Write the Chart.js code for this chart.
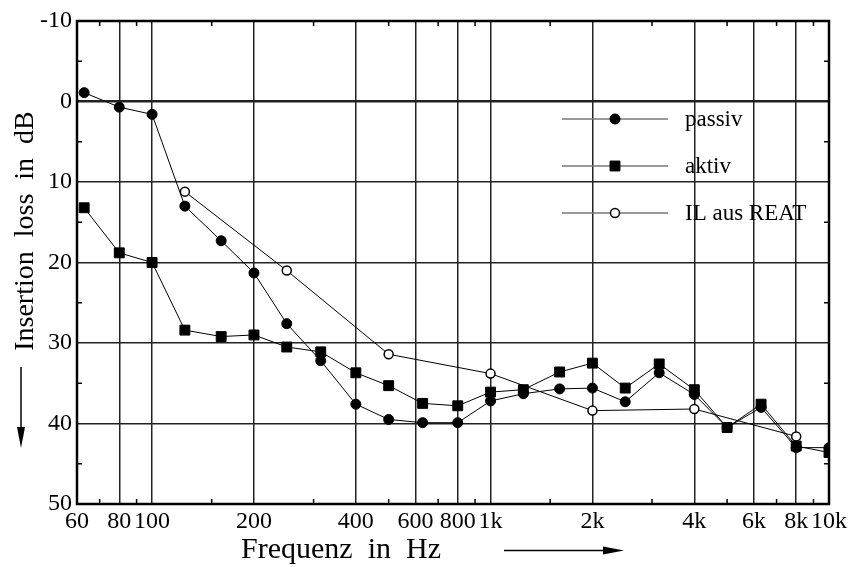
<!DOCTYPE html>
<html>
<head>
<meta charset="utf-8">
<script src="https://cdn.jsdelivr.net/npm/chart.js@4/dist/chart.umd.min.js"></script>
<style>
  body { margin: 0; background: #fff; }
  #wrap { width: 849px; height: 567px; }
</style>
</head>
<body>
<div id="wrap"><canvas id="chart"></canvas></div>
<script>
// third-octave band centre frequencies in Hz
const freqs = [63, 80, 100, 125, 160, 200, 250, 315, 400, 500, 630, 800, 1000, 1250, 1600, 2000, 2500, 3150, 4000, 5000, 6300, 8000, 10000];
const passiv = [-1.1, 0.7, 1.6, 13.0, 17.3, 21.3, 27.6, 32.2, 37.6, 39.5, 39.9, 39.9, 37.2, 36.3, 35.7, 35.6, 37.3, 33.7, 36.4, 40.5, 38.0, 43.0, 43.0];
const aktiv = [13.2, 18.8, 20.0, 28.4, 29.2, 29.0, 30.5, 31.1, 33.7, 35.3, 37.5, 37.8, 36.1, 35.8, 33.6, 32.5, 35.6, 32.6, 35.8, 40.5, 37.6, 42.8, 43.6];
// REAT measurements only exist at octave bands
const reatFreqs = [125, 250, 500, 1000, 2000, 4000, 8000];
const reat = [11.2, 21.0, 31.4, 33.8, 38.4, 38.2, 41.6];

const xTicks = [60, 80, 100, 200, 400, 600, 800, 1000, 2000, 4000, 6000, 8000, 10000];
const xMinorTicks = [70, 90, 150, 300, 500, 700, 900, 1500, 3000, 5000, 7000, 9000];
const yMinorTicks = [-5, 5, 15, 25, 35, 45];

const serif = '"Liberation Serif", "Times New Roman", serif';
const pair = (xs, ys) => xs.map((x, i) => ({ x: x, y: ys[i] }));

// box around the plot plus the small inward ticks
const framePlugin = {
    id: 'frame',
    beforeDatasetsDraw(chart) {
        const { ctx, chartArea: a, scales } = chart;
        ctx.save();
        ctx.strokeStyle = '#000';
        ctx.lineWidth = 1.5;
        ctx.beginPath();
        xMinorTicks.forEach((f) => {
            const px = scales.x.getPixelForValue(f);
            ctx.moveTo(px, a.top);
            ctx.lineTo(px, a.top + 5);
            ctx.moveTo(px, a.bottom);
            ctx.lineTo(px, a.bottom - 5);
        });
        yMinorTicks.forEach((v) => {
            const py = scales.y.getPixelForValue(v);
            ctx.moveTo(a.left, py);
            ctx.lineTo(a.left + 5, py);
            ctx.moveTo(a.right, py);
            ctx.lineTo(a.right - 5, py);
        });
        ctx.stroke();
        ctx.lineWidth = 2.5;
        ctx.strokeRect(a.left, a.top, a.right - a.left, a.bottom - a.top);
        ctx.restore();
    },
};

const drawArrowHead = (ctx, x, y, dir) => {
    ctx.beginPath();
    if (dir === 'down') {
        ctx.moveTo(x - 4, y - 21);
        ctx.lineTo(x + 4, y - 21);
        ctx.lineTo(x, y);
    } else {
        ctx.moveTo(x - 21, y - 4);
        ctx.lineTo(x - 21, y + 4);
        ctx.lineTo(x, y);
    }
    ctx.closePath();
    ctx.fill();
};

const titlePlugin = {
    id: 'axisTitles',
    afterDraw(chart) {
        const ctx = chart.ctx;
        ctx.save();
        ctx.fillStyle = '#000';
        ctx.strokeStyle = '#000';

        ctx.font = '30px ' + serif;
        ctx.textAlign = 'center';
        ctx.textBaseline = 'alphabetic';
        ctx.fillText('Frequenz  in  Hz', 341, 558);
        ctx.lineWidth = 1.5;
        ctx.beginPath();
        ctx.moveTo(504, 550.5);
        ctx.lineTo(605, 550.5);
        ctx.stroke();
        drawArrowHead(ctx, 624, 550.5, 'right');

        ctx.font = '28px ' + serif;
        ctx.save();
        ctx.translate(33, 231);
        ctx.rotate(-Math.PI / 2);
        ctx.fillText('Insertion  loss  in  dB', 0, 0);
        ctx.restore();
        ctx.beginPath();
        ctx.moveTo(21, 367);
        ctx.lineTo(21, 430);
        ctx.stroke();
        drawArrowHead(ctx, 21, 448, 'down');
        ctx.restore();
    },
};

const legendPlugin = {
    id: 'lineLegend',
    afterDatasetsDraw(chart) {
        const ctx = chart.ctx;
        ctx.save();
        chart.data.datasets.forEach((ds, i) => {
            const y = 119 + 47 * i;
            ctx.strokeStyle = '#777';
            ctx.lineWidth = 1.5;
            ctx.beginPath();
            ctx.moveTo(562, y);
            ctx.lineTo(668, y);
            ctx.stroke();
            ctx.fillStyle = ds.pointBackgroundColor;
            ctx.strokeStyle = ds.pointBorderColor;
            ctx.lineWidth = ds.pointBorderWidth;
            Chart.helpers.drawPoint(ctx, {
                pointStyle: ds.pointStyle,
                radius: ds.pointRadius,
                borderWidth: ds.pointBorderWidth,
                rotation: 0,
            }, 615, y);
            ctx.fillStyle = '#000';
            ctx.font = '23px ' + serif;
            ctx.textAlign = 'left';
            ctx.textBaseline = 'alphabetic';
            ctx.fillText(ds.label, 685, y + 7);
        });
        ctx.restore();
    },
};

const data = {
    datasets: [
        {
            label: 'passiv',
            data: pair(freqs, passiv),
            borderColor: '#000',
            borderWidth: 1,
            pointStyle: 'circle',
            pointRadius: 5,
            pointBackgroundColor: '#000',
            pointBorderColor: '#000',
            pointBorderWidth: 1,
        },
        {
            label: 'aktiv',
            data: pair(freqs, aktiv),
            borderColor: '#000',
            borderWidth: 1,
            pointStyle: 'rect',
            pointRadius: 7,
            pointBackgroundColor: '#000',
            pointBorderColor: '#000',
            pointBorderWidth: 1,
        },
        {
            label: 'IL aus REAT',
            data: pair(reatFreqs, reat),
            borderColor: '#000',
            borderWidth: 1,
            pointStyle: 'circle',
            pointRadius: 4.5,
            pointBackgroundColor: '#fff',
            pointBorderColor: '#000',
            pointBorderWidth: 1.5,
        },
    ],
};

const config = {
    type: 'line',
    data: data,
    options: {
        responsive: true,
        maintainAspectRatio: false,
        animation: false,
        layout: { padding: { left: 0, right: 20, top: 21, bottom: 0 } },
        plugins: { legend: { display: false }, tooltip: { enabled: false } },
        elements: { line: { tension: 0 } },
        scales: {
            x: {
                type: 'logarithmic',
                min: 60,
                max: 10000,
                afterBuildTicks: (scale) => {
                    scale.ticks = xTicks.map((v) => ({ value: v }));
                },
                afterFit: (scale) => {
                    scale.height = 63;
                    scale.paddingRight = 0;
                },
                border: { display: false },
                grid: { color: '#222', lineWidth: 1.5, drawTicks: false },
                ticks: {
                    autoSkip: false,
                    maxRotation: 0,
                    minRotation: 0,
                    padding: 3,
                    color: '#000',
                    font: { family: serif, size: 24 },
                    callback: (value) => value >= 1000 ? value / 1000 + 'k' : String(value),
                },
            },
            y: {
                type: 'linear',
                reverse: true,
                min: -10,
                max: 50,
                afterFit: (scale) => { scale.width = 77; },
                border: { display: false },
                grid: {
                    color: '#222',
                    lineWidth: (c) => c.tick && c.tick.value === 0 ? 2.5 : 1.5,
                    drawTicks: false,
                },
                ticks: {
                    stepSize: 10,
                    padding: 5,
                    color: '#000',
                    font: { family: serif, size: 24 },
                },
            },
        },
    },
    plugins: [framePlugin, legendPlugin, titlePlugin],
};

new Chart(document.querySelector('#chart'), config);
</script>
</body>
</html>
